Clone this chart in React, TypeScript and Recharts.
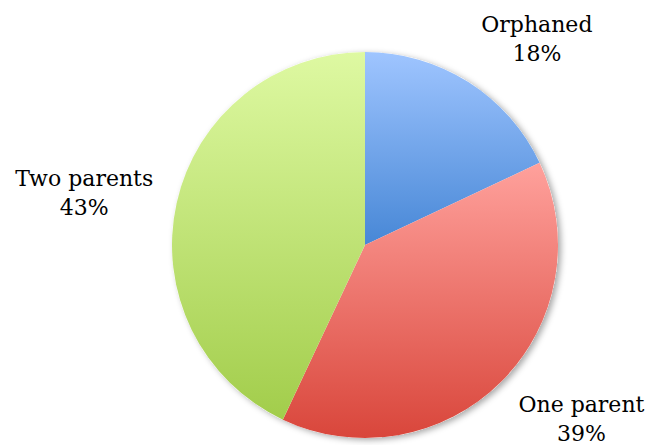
import React from 'react';
import { PieChart, Pie, Cell } from 'recharts';

const categories = ['Orphaned', 'One parent', 'Two parents'];
const values = [18, 39, 43];
const percentLabels = ['18%', '39%', '43%'];

const gradients = [
  { id: 'gBlue', top: '#9fc5ff', bottom: '#4787d6' },
  { id: 'gRed', top: '#ffa19c', bottom: '#d9463b' },
  { id: 'gGreen', top: '#def9a2', bottom: '#a2cd4b' },
];

const data = categories.map((name, i) => ({ name, value: values[i], pct: percentLabels[i] }));
const bg = [{ name: 'bg', value: 1 }];

const RAD = Math.PI / 180;

const renderLabel = (props: any) => {
  const { cx, cy, midAngle, outerRadius, index } = props;
  const r = outerRadius + 24;
  const cos = Math.cos(-midAngle * RAD);
  const sin = Math.sin(midAngle * RAD);
  const x = cx + r * Math.cos(midAngle * RAD);
  const y = cy - r * sin;
  const anchor = cos >= 0 ? 'start' : 'end';
  const center = y + 4 - 28 * sin;
  const d = data[index];
  // center text block horizontally on its own width
  return (
    <text
      x={x}
      y={center - 10}
      textAnchor={anchor}
      fill="#000"
      fontFamily="'DejaVu Serif', serif"
      fontSize={22}
    >
      <tspan x={x} dy={0}>{d.name}</tspan>
    </text>
  );
};

const renderLabel2 = (props: any) => {
  const { cx, cy, midAngle, outerRadius, index } = props;
  const r = outerRadius + 24;
  const c = Math.cos(midAngle * RAD);
  const sin = Math.sin(midAngle * RAD);
  const x = cx + r * c;
  const y = cy - r * sin;
  const center = y + 4 - 28 * sin;
  const d = data[index];
  const nameW = d.name.length * 0; // unused
  void nameW;
  // approximate block width for horizontal centering of the two lines
  const blockW = estimateWidth(d.name);
  const mid = c >= 0 ? x + blockW / 2 : x - blockW / 2;
  return (
    <text
      textAnchor="middle"
      fill="#000"
      fontFamily="'DejaVu Serif', serif"
      fontSize={22}
    >
      <tspan x={mid} y={center - 10}>{d.name}</tspan>
      <tspan x={mid} y={center + 19}>{d.pct}</tspan>
    </text>
  );
};

function estimateWidth(s: string) {
  if (typeof document === 'undefined') return s.length * 12;
  const cnv = document.createElement('canvas');
  const ctx = cnv.getContext('2d');
  if (!ctx) return s.length * 12;
  ctx.font = "22px 'DejaVu Serif'";
  return ctx.measureText(s).width;
}

void renderLabel;

export default function App() {
  return (
    <div style={{ position: 'absolute', left: 0, top: 0, width: 650, height: 445, background: '#fff' }}>
      <PieChart width={650} height={445} margin={{ top: 0, right: 0, bottom: 0, left: 0 }}>
        <defs>
          {gradients.map((g) => (
            <linearGradient key={g.id} id={g.id} x1="0" y1="0" x2="0" y2="1">
              <stop offset="0%" stopColor={g.top} />
              <stop offset="100%" stopColor={g.bottom} />
            </linearGradient>
          ))}
          <filter id="pieShadow" x="-20%" y="-20%" width="140%" height="140%">
            <feDropShadow dx="3" dy="2" stdDeviation="3" floodColor="#000" floodOpacity="0.35" />
          </filter>
        </defs>
        <Pie
          data={bg}
          dataKey="value"
          cx={365}
          cy={245}
          outerRadius={193}
          startAngle={90}
          endAngle={-270}
          stroke="none"
          isAnimationActive={false}
          style={{ filter: 'url(#pieShadow)' }}
        >
          <Cell fill="#fff" style={{ filter: 'url(#pieShadow)' }} />
        </Pie>
        <Pie
          data={data}
          dataKey="value"
          nameKey="name"
          cx={365}
          cy={245}
          outerRadius={193}
          startAngle={90}
          endAngle={-270}
          stroke="none"
          labelLine={false}
          label={renderLabel2}
          isAnimationActive={false}
        >
          {data.map((d, i) => (
            <Cell key={d.name} fill={`url(#${gradients[i].id})`} />
          ))}
        </Pie>
      </PieChart>
    </div>
  );
}
